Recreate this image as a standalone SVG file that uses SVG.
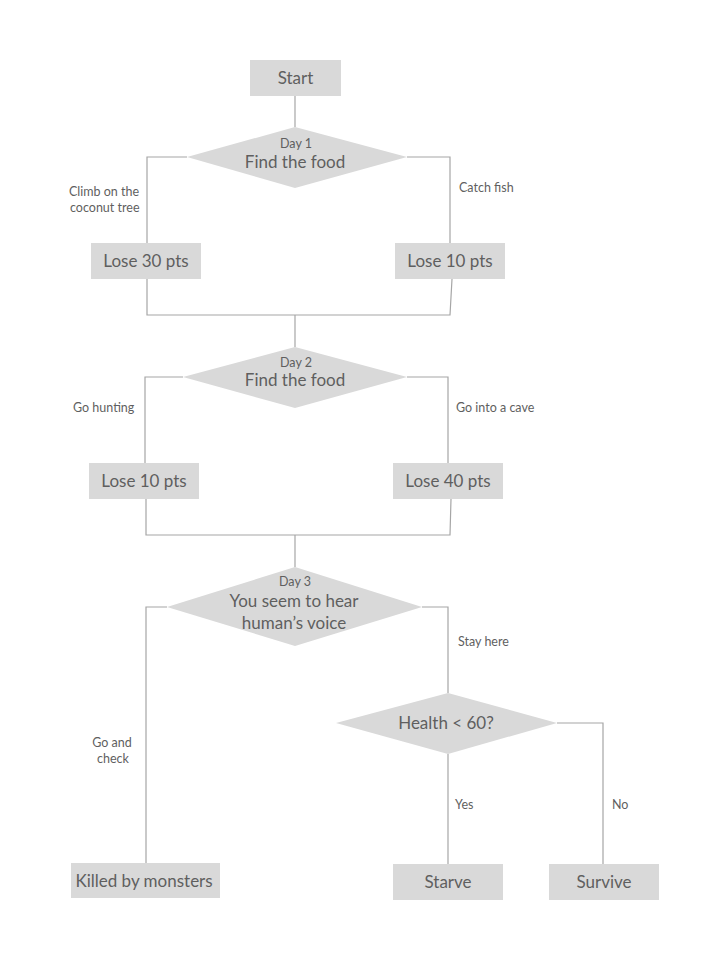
<svg xmlns="http://www.w3.org/2000/svg" width="722" height="976" viewBox="0 0 722 976">
<style>
.n{fill:#d9d9d9;stroke:none}
.t{font-family:Lato,"Open Sans","Liberation Sans",sans-serif;fill:#5f5f5f;text-anchor:middle}
.b{font-size:17px}
.s{font-size:12.5px}
.l{font-family:Lato,"Open Sans","Liberation Sans",sans-serif;fill:#5f5f5f;font-size:12.5px}
.c{fill:none;stroke:#a6a6a6;stroke-width:1.2}
</style>
<rect width="722" height="976" fill="#fff"/>
<g id="connectors">
<path class="c" d="M295 96V127"/>
<path class="c" d="M187 157H147V243"/>
<path class="c" d="M407 157H450V243"/>
<path class="c" d="M147 279V315H450L452 279"/>
<path class="c" d="M295 315V347"/>
<path class="c" d="M183 377H145V463"/>
<path class="c" d="M407 377H448V463"/>
<path class="c" d="M146 499V535H450L451 499"/>
<path class="c" d="M295 535V567"/>
<path class="c" d="M167 607H146V863"/>
<path class="c" d="M422 607H448V693"/>
<path class="c" d="M448 754V864"/>
<path class="c" d="M557 723H603V864"/>
</g>
<g id="labels">
<text class="l" x="69" y="196">Climb on the</text>
<text class="l" x="70" y="212">coconut tree</text>
<text class="l" x="459" y="192">Catch fish</text>
<text class="l" x="73" y="412">Go hunting</text>
<text class="l" x="456" y="412">Go into a cave</text>
<text class="l" x="458" y="646">Stay here</text>
<text class="t s" x="112" y="747">Go and</text>
<text class="t s" x="113" y="763">check</text>
<text class="l" x="455" y="809">Yes</text>
<text class="l" x="612" y="809">No</text>
</g>
<g id="start">
<rect class="n" x="250" y="60" width="91" height="36"/>
<text class="t b" x="295.5" y="84">Start</text>
</g>
<g id="day1">
<polygon class="n" points="295,127 407,157 295,188 187,157"/>
<text class="t s" x="296" y="148">Day 1</text>
<text class="t b" x="295" y="168">Find the food</text>
</g>
<g id="lose30">
<rect class="n" x="91" y="243" width="110" height="36"/>
<text class="t b" x="146" y="267">Lose 30 pts</text>
</g>
<g id="lose10a">
<rect class="n" x="395" y="243" width="110" height="36"/>
<text class="t b" x="450" y="267">Lose 10 pts</text>
</g>
<g id="day2">
<polygon class="n" points="295,347 407,377 295,408 183,377"/>
<text class="t s" x="296" y="367">Day 2</text>
<text class="t b" x="295" y="386">Find the food</text>
</g>
<g id="lose10b">
<rect class="n" x="89" y="463" width="110" height="36"/>
<text class="t b" x="144" y="487">Lose 10 pts</text>
</g>
<g id="lose40">
<rect class="n" x="393" y="463" width="110" height="36"/>
<text class="t b" x="448" y="487">Lose 40 pts</text>
</g>
<g id="day3">
<polygon class="n" points="295,567 422,607 295,646 167,607"/>
<text class="t s" x="295" y="586">Day 3</text>
<text class="t b" x="294" y="607">You seem to hear</text>
<text class="t b" x="294" y="629">human’s voice</text>
</g>
<g id="health">
<polygon class="n" points="448,693 557,723 448,754 336,723"/>
<text class="t b" x="446" y="729">Health &lt; 60?</text>
</g>
<g id="killed">
<rect class="n" x="71" y="863" width="149" height="35"/>
<text class="t b" x="144" y="887">Killed by monsters</text>
</g>
<g id="starve">
<rect class="n" x="393" y="864" width="110" height="36"/>
<text class="t b" x="448" y="888">Starve</text>
</g>
<g id="survive">
<rect class="n" x="549" y="864" width="110" height="36"/>
<text class="t b" x="604" y="888">Survive</text>
</g>
</svg>
